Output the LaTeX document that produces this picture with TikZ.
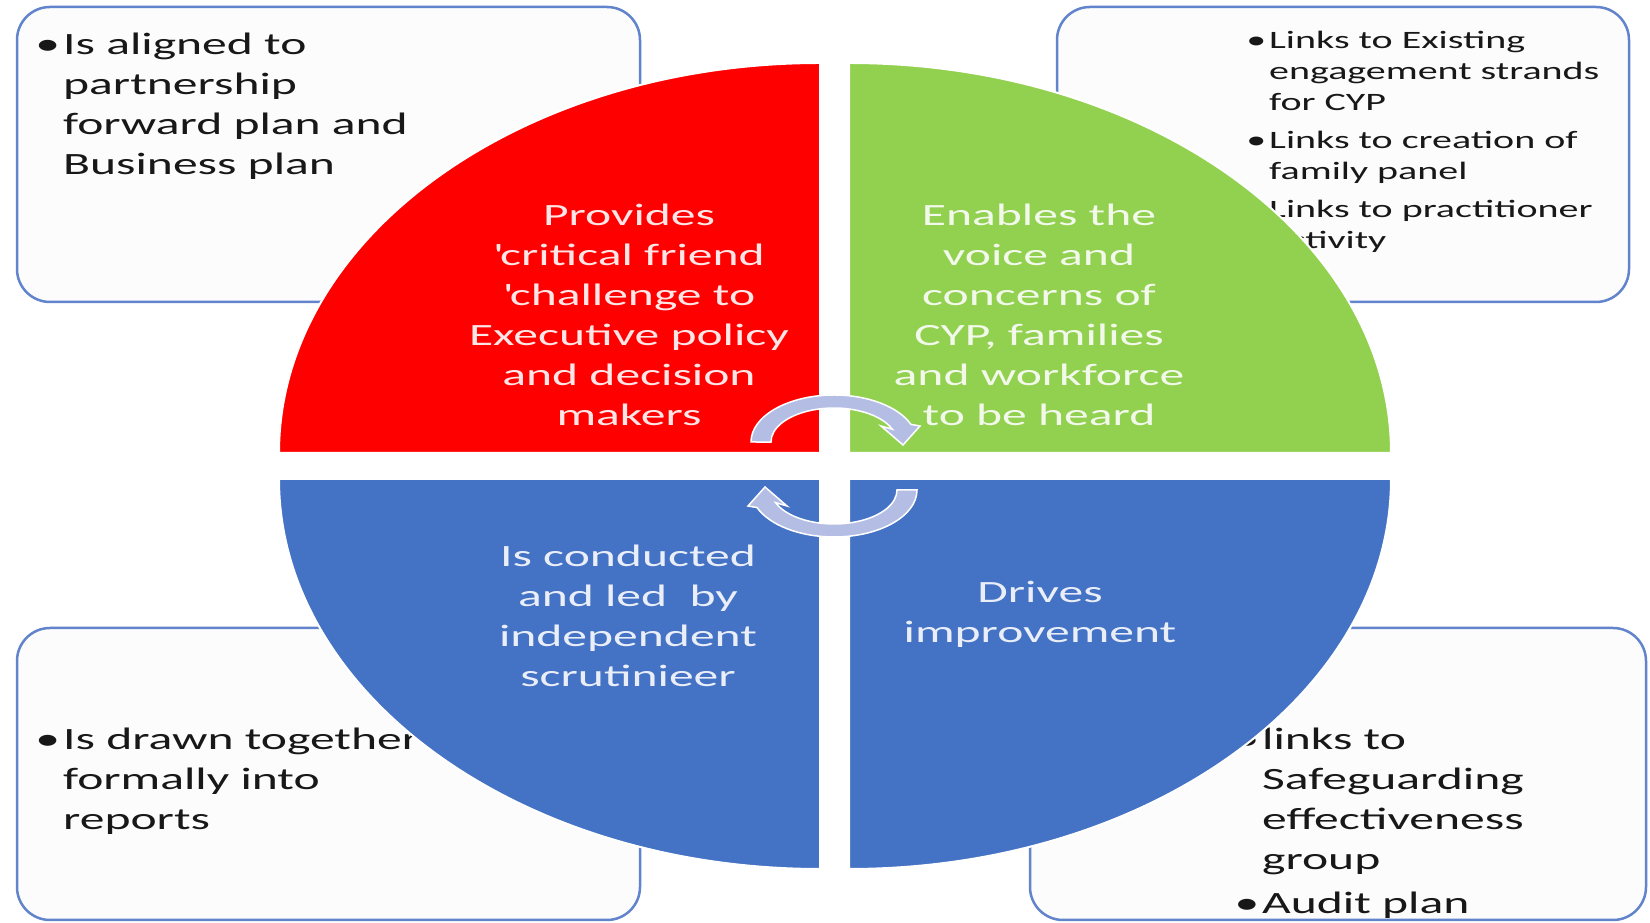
\documentclass[tikz,border=0pt]{standalone}
\usepackage{fontspec}
\setmainfont{Carlito}[FakeStretch=1.6]
\usetikzlibrary{calc}

\definecolor{quadred}{RGB}{255,0,0}
\definecolor{quadgreen}{RGB}{146,208,80}
\definecolor{quadblue}{RGB}{68,114,196}
\definecolor{boxline}{RGB}{98,132,204}
\definecolor{boxfill}{RGB}{252,252,252}
\definecolor{arrowfill}{RGB}{180,190,228}
\definecolor{bodytext}{RGB}{24,24,24}

\tikzset{
  box/.style={draw=boxline,line width=2.5pt,fill=boxfill,rounded corners=33pt},
  quarter/.style={draw=white,line width=2pt},
  boxtext/.style={anchor=base west,align=left,inner sep=0pt,text=bodytext,
    font=\fontsize{31}{40}\selectfont},
  smalltext/.style={boxtext,font=\fontsize{25}{31}\selectfont},
  quadtext/.style={align=center,inner sep=0pt,font=\fontsize{31}{40}\selectfont},
  turnarrow/.style={fill=arrowfill,draw=white,line width=1.5pt}
}
\newcommand{\bul}{\llap{•\hspace{3pt}}}

\begin{document}
\begin{tikzpicture}[x=1pt,y=1pt]
\useasboundingbox (0,0) rectangle (1650,923);
\clip (0,0) rectangle (1650,923);
\fill[white] (0,0) rectangle (1650,923);

\draw[box] (17,621) rectangle (640,916);
\draw[box] (1057,621) rectangle (1629,916);
\draw[box] (17,3) rectangle (640,295);
\draw[box] (1030,3) rectangle (1646,295);

% base anchor sits on the last line
\node[boxtext] (aligned) at (63,748) {\bul Is aligned to\\partnership\\forward plan and\\Business plan};
\node[smalltext] (links) at (1269,674) {\bul Links to Existing\\engagement strands\\for CYP\\[7pt]\bul Links to creation of\\family panel\\[7pt]\bul Links to practitioner\\activity};
\node[boxtext] (drawn) at (63,93) {\bul Is drawn together\\formally into\\reports};
\node[boxtext] (safe) at (1262,9) {\bul links to\\Safeguarding\\effectiveness\\group\\[4pt]\bul Audit plan};

\filldraw[quarter,fill=quadred] (820,470) -- (279,470) arc[start angle=180,end angle=90,x radius=541,y radius=390] -- cycle;
\filldraw[quarter,fill=quadgreen] (849,470) -- (849,860) arc[start angle=90,end angle=0,x radius=542,y radius=390] -- cycle;
\filldraw[quarter,fill=quadblue] (820,444) -- (820,54) arc[start angle=270,end angle=180,x radius=541,y radius=390] -- cycle;
\filldraw[quarter,fill=quadblue] (849,444) -- (1391,444) arc[start angle=0,end angle=-90,x radius=542,y radius=390] -- cycle;

\node[quadtext,text=white!90!quadred] (critical) at (629,608) {Provides\\\textquotesingle critical friend\\\textquotesingle challenge to\\Executive policy\\and decision\\makers};
\node[quadtext,text=white!88!quadgreen] (voice) at (1039,608) {Enables the\\voice and\\concerns of\\CYP, families\\and workforce\\to be heard};
\node[quadtext,text=white!88!quadblue] (scrutiny) at (628,307) {Is conducted\\and led~ by\\independent\\scrutinieer};
\node[quadtext,text=white!88!quadblue] (drives) at (1040,309) {Drives\\improvement};

\foreach \ang in {0,180}
{
\begin{scope}[rotate around={\ang:(834,457)}]
\filldraw[turnarrow] (751,481) arc[start angle=180,end angle=22,x radius=83,y radius=47]
  -- (920,497) -- (903,478) -- (881,497) -- (892.4,493.7)
  arc[start angle=22,end angle=180,x radius=63,y radius=34] -- cycle;
\end{scope}
}
\end{tikzpicture}
\end{document}
